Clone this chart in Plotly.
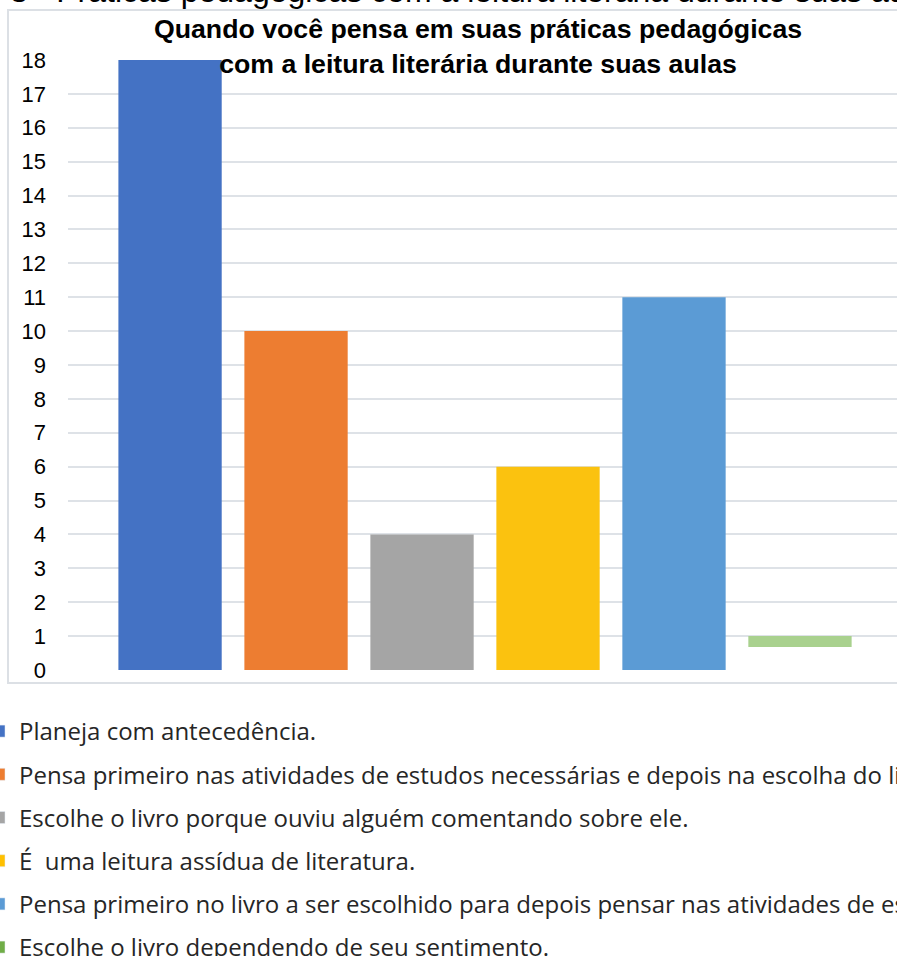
import plotly.graph_objects as go

categories = [
    "Planeja com antecedência.",
    "Pensa primeiro nas atividades de estudos necessárias e depois na escolha do livro.",
    "Escolhe o livro porque ouviu alguém comentando sobre ele.",
    "É  uma leitura assídua de literatura.",
    "Pensa primeiro no livro a ser escolhido para depois pensar nas atividades de estudos.",
    "Escolhe o livro dependendo de seu sentimento.",
]
values = [18, 10, 4, 6, 11, 1]
bases = [0, 0, 0, 0, 0, 0.68]
colors = ["#4472C4", "#ED7D31", "#A5A5A5", "#FBC20F", "#5B9BD5", "#A9D18E"]
legend_colors = ["#4472C4", "#ED7D31", "#A5A5A5", "#FFC000", "#5B9BD5", "#70AD47"]
y_ticks = list(range(0, 19))

W, H = 897, 956
L, R, T, B = 68, 0, 60, 286

fig = go.Figure()
for i, (name, v, b, c) in enumerate(zip(categories, values, bases, colors)):
    fig.add_trace(go.Bar(
        x=[i], y=[v - b], base=[b], name=name,
        marker=dict(color=c, line=dict(width=0)),
        width=0.82, legendgroup=f"g{i}",
        showlegend=False,
    ))
    fig.add_trace(go.Bar(
        x=[None], y=[None], name=name,
        marker=dict(color=legend_colors[i]),
        legendgroup=f"g{i}", showlegend=True,
    ))

pw = W - L - R
ph = H - T - B

def px_x(p):
    return (p - L) / pw

def px_y(p):
    return (H - B - p) / ph

fig.add_shape(type="rect", xref="paper", yref="paper",
              x0=px_x(8), x1=px_x(905), y0=px_y(683), y1=px_y(10),
              line=dict(color="#DCE0E5", width=2), layer="below")

fig.add_annotation(
    text="3 - Práticas pedagógicas com a leitura literária durante suas aulas",
    xref="paper", yref="paper", x=px_x(8), y=px_y(-9),
    xanchor="left", yanchor="middle", showarrow=False,
    font=dict(family="Liberation Sans, Arial", size=32, color="#000000"),
)

fig.update_layout(
    width=W, height=H,
    margin=dict(l=L, r=R, t=T, b=B, autoexpand=False),
    paper_bgcolor="white", plot_bgcolor="white",
    barmode="overlay",
    title=dict(
        text="<b>Quando você pensa em suas práticas pedagógicas<br>com a leitura literária durante suas aulas</b>",
        x=px_x(478), xanchor="center", xref="paper",
        y=1 - 38 / H, yanchor="middle", yref="container",
        font=dict(family="Liberation Sans, Arial", size=26.7, color="#000000"),
    ),
    xaxis=dict(range=[-0.81, 5.77], showticklabels=False, showgrid=False,
               zeroline=False, showline=False, ticks=""),
    yaxis=dict(range=[0, 18], tickvals=y_ticks, showgrid=True,
               gridcolor="#DEE2E7", gridwidth=2, zeroline=False, showline=False,
               ticks="", ticklabelstandoff=21,
               tickfont=dict(family="Liberation Sans, Arial", size=22, color="#000000")),
    legend=dict(
        orientation="v", x=px_x(-21), xanchor="left", y=px_y(709), yanchor="top",
        font=dict(family="Open Sans", size=24, color="#262626"),
        tracegroupgap=9, bgcolor="rgba(0,0,0,0)",
    ),
    showlegend=True,
)

fig.write_html("out.html")
